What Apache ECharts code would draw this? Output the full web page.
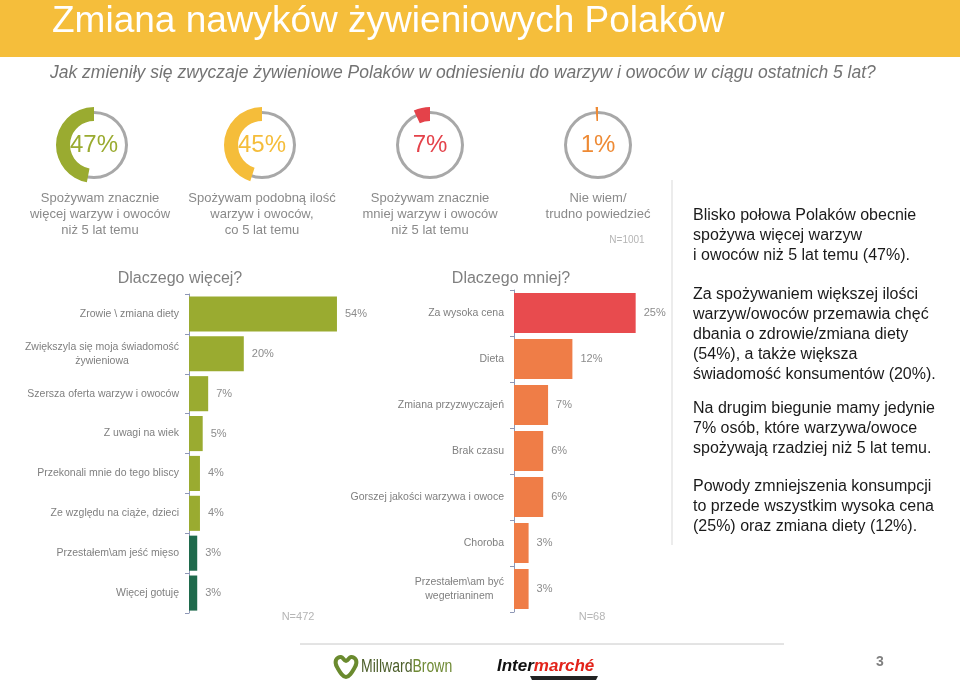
<!DOCTYPE html>
<html><head><meta charset="utf-8">
<script src="https://cdn.jsdelivr.net/npm/echarts@6/dist/echarts.min.js"></script>
<style>html,body{margin:0;padding:0;background:#fff}#c{width:960px;height:692px}</style>
</head><body><div id="c"></div>
<script>
// ---- data ----
const donutValues = [47, 45, 7, 1];
const donutLabels = [
  "Spożywam znacznie\nwięcej warzyw i owoców\nniż 5 lat temu",
  "Spożywam podobną ilość\nwarzyw i owoców,\nco 5 lat temu",
  "Spożywam znacznie\nmniej warzyw i owoców\nniż 5 lat temu",
  "Nie wiem/\ntrudno powiedzieć"
];
const moreCategories = [
  "Zrowie \\ zmiana diety",
  "Zwiększyla się moja świadomość\nżywieniowa",
  "Szersza oferta warzyw i owoców",
  "Z uwagi na wiek",
  "Przekonali mnie do tego bliscy",
  "Ze względu na ciąże, dzieci",
  "Przestałem\\am jeść mięso",
  "Więcej gotuję"
];
const moreValues = [54, 20, 7, 5, 4, 4, 3, 3];
const lessCategories = [
  "Za wysoka cena",
  "Dieta",
  "Zmiana przyzwyczajeń",
  "Brak czasu",
  "Gorszej jakości warzywa i owoce",
  "Choroba",
  "Przestałem\\am być\nwegetrianinem"
];
const lessValues = [25, 12, 7, 6, 6, 3, 3];
const sampleSizes = ["N=1001", "N=472", "N=68"];
const notes = [
  "Blisko połowa Polaków obecnie\nspożywa więcej warzyw\ni owoców niż 5 lat temu (47%).",
  "Za spożywaniem większej ilości\nwarzyw/owoców przemawia chęć\ndbania o zdrowie/zmiana diety\n(54%), a także większa\nświadomość konsumentów (20%).",
  "Na drugim biegunie mamy jedynie\n7% osób, które warzywa/owoce\nspożywają rzadziej niż 5 lat temu.",
  "Powody zmniejszenia konsumpcji\nto przede wszystkim wysoka cena\n(25%) oraz zmiana diety (12%)."
];

// ---- styles / layout ----
const FONT = '"Liberation Sans", Arial, sans-serif';
const donutColors = ['#9aab30', '#f5bd3a', '#e4424a', '#ee8a34'];
const donutX = [94, 262, 430, 598];
const donutY = 145;
const moreColors = ['#9aab30','#9aab30','#9aab30','#9aab30','#9aab30','#9aab30','#1f6a4c','#1f6a4c'];
const lessColors = ['#e84b4e','#ef7d47','#ef7d47','#ef7d47','#ef7d47','#ef7d47','#ef7d47'];

const chart = echarts.init(document.getElementById('c'), null, {renderer: 'canvas'});

const series = [];
donutValues.forEach((v, i) => {
  series.push({
    type: 'pie', center: [donutX[i], donutY], radius: [31, 34], silent: true,
    animation: false, label: {show: false}, labelLine: {show: false},
    data: [{value: 1, itemStyle: {color: '#a8a8a8'}}]
  });
  series.push({
    type: 'pie', center: [donutX[i], donutY], radius: [24, 38], silent: true,
    animation: false, startAngle: 90, clockwise: false, labelLine: {show: false},
    data: [
      {value: v, itemStyle: {color: donutColors[i]},
       label: {show: true, position: 'center', formatter: '{c}%', color: donutColors[i],
               fontSize: 24, fontFamily: FONT}},
      {value: 100 - v, itemStyle: {color: 'rgba(0,0,0,0)'}, label: {show: false}}
    ]
  });
});

const labelFmt = v => v.split('\n').map(s => '{c|' + s + '}').join('\n');
const axisCommon = {
  type: 'category', inverse: true,
  axisLine: {lineStyle: {color: '#8f98b6', width: 1}},
  axisTick: {show: true, length: 4, lineStyle: {color: '#8f98b6'}},
  axisLabel: {color: '#7f7f7f', fontSize: 10.5, fontFamily: FONT, margin: 10,
              formatter: labelFmt, rich: {c: {align: 'center', color: '#7f7f7f', fontSize: 10.5, fontFamily: FONT, lineHeight: 14}}}
};
const barLabel = {show: true, position: 'right', distance: 8, color: '#8c8c8c', fontSize: 11,
                  fontFamily: FONT, formatter: p => p.value + '%'};

series.push({
  type: 'bar', xAxisIndex: 0, yAxisIndex: 0, barCategoryGap: '12%', animation: false,
  data: moreValues.map((v, i) => ({value: v, itemStyle: {color: moreColors[i]}})),
  label: barLabel
});
series.push({
  type: 'bar', xAxisIndex: 1, yAxisIndex: 1, barCategoryGap: '13%', animation: false,
  data: lessValues.map((v, i) => ({value: v, itemStyle: {color: lessColors[i]}})),
  label: barLabel
});

const graphic = [
  {type: 'rect', shape: {x: 0, y: 0, width: 960, height: 57}, style: {fill: '#f5be3b'}, z: -1},
  {type: 'text', style: {text: 'Zmiana nawyków żywieniowych Polaków', x: 52, y: 22, fill: '#ffffff',
    font: '37px ' + FONT, verticalAlign: 'middle'}},
  {type: 'text', style: {text: 'Jak zmieniły się zwyczaje żywieniowe Polaków w odniesieniu do warzyw i owoców w ciągu ostatnich 5 lat?',
    x: 50, y: 73, fill: '#737373', font: 'italic 17.5px ' + FONT, verticalAlign: 'middle'}},
  {type: 'text', style: {text: 'Dlaczego więcej?', x: 180, y: 279, fill: '#808080', font: '16px ' + FONT, align: 'center', verticalAlign: 'middle'}},
  {type: 'text', style: {text: 'Dlaczego mniej?', x: 511, y: 279, fill: '#808080', font: '16px ' + FONT, align: 'center', verticalAlign: 'middle'}},
  {type: 'text', style: {text: sampleSizes[0], x: 627, y: 240, fill: '#b5b5b5', font: '10px ' + FONT, align: 'center', verticalAlign: 'middle'}},
  {type: 'text', style: {text: sampleSizes[1], x: 298, y: 617, fill: '#b5b5b5', font: '11px ' + FONT, align: 'center', verticalAlign: 'middle'}},
  {type: 'text', style: {text: sampleSizes[2], x: 592, y: 617, fill: '#b5b5b5', font: '11px ' + FONT, align: 'center', verticalAlign: 'middle'}},
  {type: 'line', shape: {x1: 672, y1: 180, x2: 672, y2: 545}, style: {stroke: '#d9d9d9', lineWidth: 1}},
  {type: 'line', shape: {x1: 300, y1: 644, x2: 784, y2: 644}, style: {stroke: '#c8c8c8', lineWidth: 1}},
  // footer logos
  {type: 'polygon', shape: {points: [[346, 677], [337, 667], [336, 660], [341, 657], [346, 661], [351, 657], [356, 660], [355, 667]], smooth: 0.4},
    style: {fill: 'none', stroke: '#6a8a2e', lineWidth: 4}},
  {type: 'text', x: 361, y: 667, scaleX: 0.78, style: {text: '{a|Millward}{b|Brown}', x: 0, y: 0, verticalAlign: 'middle',
    rich: {a: {fill: '#4d5f2b', font: '18px ' + FONT}, b: {fill: '#6f8a35', font: '18px ' + FONT}}}},
  {type: 'text', style: {text: '{a|Inter}{b|marché}', x: 497, y: 666, verticalAlign: 'middle',
    rich: {a: {fill: '#111111', font: 'italic bold 17px ' + FONT}, b: {fill: '#e2231a', font: 'italic bold 17px ' + FONT}}}},
  {type: 'polygon', shape: {points: [[530, 676], [598, 676], [596, 680], [532, 680]]}, style: {fill: '#222222'}},
  {type: 'text', style: {text: '3', x: 880, y: 662, fill: '#808080', font: 'bold 14px ' + FONT, align: 'center', verticalAlign: 'middle'}}
];
donutLabels.forEach((t, i) => {
  graphic.push({type: 'text', style: {text: t, x: donutX[i] + (i === 0 ? 6 : 0), y: 190, fill: '#8a8a8a', font: '13px ' + FONT,
    align: 'center', verticalAlign: 'top', lineHeight: 16}});
});
const noteY = [206, 285, 399, 477];
notes.forEach((t, i) => {
  graphic.push({type: 'text', style: {text: t, x: 693, y: noteY[i], fill: '#1a1a1a', font: '16px ' + FONT,
    verticalAlign: 'top', lineHeight: 20}});
});

chart.setOption({
  animation: false,
  grid: [
    {left: 189, top: 294, width: 274, height: 319},
    {left: 514, top: 290, width: 146, height: 322}
  ],
  xAxis: [
    {gridIndex: 0, type: 'value', min: 0, max: 100, show: false},
    {gridIndex: 1, type: 'value', min: 0, max: 30, show: false}
  ],
  yAxis: [
    Object.assign({gridIndex: 0, data: moreCategories}, axisCommon),
    Object.assign({gridIndex: 1, data: lessCategories}, axisCommon)
  ],
  series: series,
  graphic: graphic
});
</script>
</body></html>
